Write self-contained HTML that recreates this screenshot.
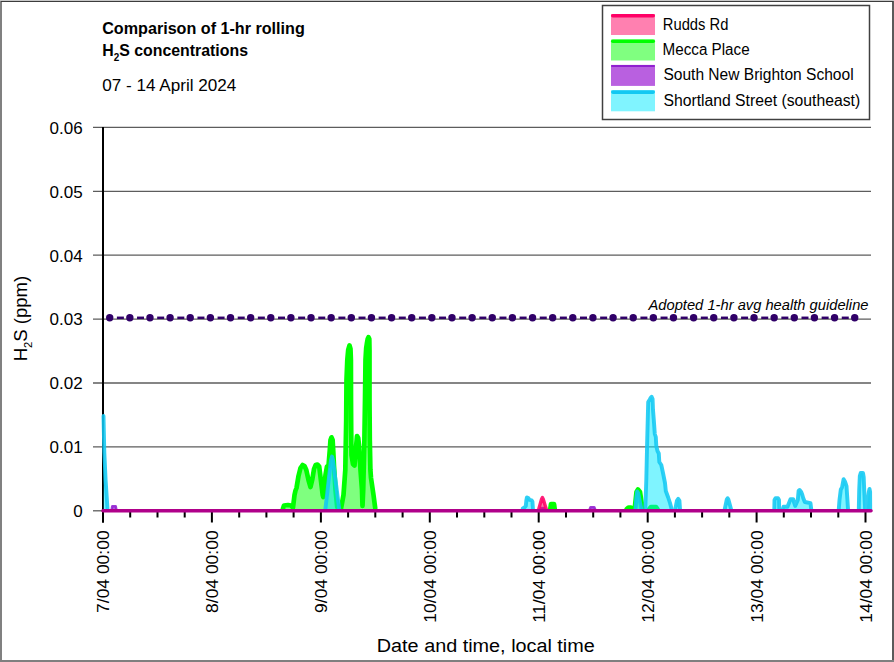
<!DOCTYPE html>
<html><head><meta charset="utf-8"><title>H2S chart</title>
<style>html,body{margin:0;padding:0;background:#fff;} body{width:894px;height:662px;overflow:hidden;font-family:"Liberation Sans", sans-serif;} svg{display:block;}</style>
</head><body>
<svg width="894" height="662" viewBox="0 0 894 662" font-family='"Liberation Sans", sans-serif'><rect x="0" y="0" width="894" height="662" fill="#ffffff"/>
<line x1="93" y1="446.9" x2="871" y2="446.9" stroke="#5c5c5c" stroke-width="1.3"/>
<line x1="93" y1="383.0" x2="871" y2="383.0" stroke="#5c5c5c" stroke-width="1.3"/>
<line x1="93" y1="319.1" x2="871" y2="319.1" stroke="#5c5c5c" stroke-width="1.3"/>
<line x1="93" y1="255.2" x2="871" y2="255.2" stroke="#5c5c5c" stroke-width="1.3"/>
<line x1="93" y1="191.3" x2="871" y2="191.3" stroke="#5c5c5c" stroke-width="1.3"/>
<line x1="93" y1="127.4" x2="871" y2="127.4" stroke="#5c5c5c" stroke-width="1.3"/>
<line x1="93" y1="510.8" x2="103" y2="510.8" stroke="#5c5c5c" stroke-width="1.3"/>
<text x="82.6" y="517.1" text-anchor="end" font-size="17" fill="#000">0</text>
<text x="82.6" y="453.2" text-anchor="end" font-size="17" fill="#000">0.01</text>
<text x="82.6" y="389.3" text-anchor="end" font-size="17" fill="#000">0.02</text>
<text x="82.6" y="325.4" text-anchor="end" font-size="17" fill="#000">0.03</text>
<text x="82.6" y="261.5" text-anchor="end" font-size="17" fill="#000">0.04</text>
<text x="82.6" y="197.6" text-anchor="end" font-size="17" fill="#000">0.05</text>
<text x="82.6" y="133.7" text-anchor="end" font-size="17" fill="#000">0.06</text>
<text x="648.5" y="310.4" font-size="14.6" font-style="italic" textLength="220" lengthAdjust="spacingAndGlyphs" fill="#000">Adopted 1-hr avg health guideline</text>
<circle cx="109.70" cy="317.8" r="3.7" fill="#300068"/>
<line x1="116.90" y1="317.8" x2="123.90" y2="317.8" stroke="#300068" stroke-width="2.5"/>
<circle cx="129.84" cy="317.8" r="3.7" fill="#300068"/>
<line x1="137.03" y1="317.8" x2="144.03" y2="317.8" stroke="#300068" stroke-width="2.5"/>
<circle cx="149.97" cy="317.8" r="3.7" fill="#300068"/>
<line x1="157.17" y1="317.8" x2="164.17" y2="317.8" stroke="#300068" stroke-width="2.5"/>
<circle cx="170.11" cy="317.8" r="3.7" fill="#300068"/>
<line x1="177.31" y1="317.8" x2="184.31" y2="317.8" stroke="#300068" stroke-width="2.5"/>
<circle cx="190.24" cy="317.8" r="3.7" fill="#300068"/>
<line x1="197.44" y1="317.8" x2="204.44" y2="317.8" stroke="#300068" stroke-width="2.5"/>
<circle cx="210.38" cy="317.8" r="3.7" fill="#300068"/>
<line x1="217.57" y1="317.8" x2="224.57" y2="317.8" stroke="#300068" stroke-width="2.5"/>
<circle cx="230.51" cy="317.8" r="3.7" fill="#300068"/>
<line x1="237.71" y1="317.8" x2="244.71" y2="317.8" stroke="#300068" stroke-width="2.5"/>
<circle cx="250.65" cy="317.8" r="3.7" fill="#300068"/>
<line x1="257.85" y1="317.8" x2="264.85" y2="317.8" stroke="#300068" stroke-width="2.5"/>
<circle cx="270.78" cy="317.8" r="3.7" fill="#300068"/>
<line x1="277.98" y1="317.8" x2="284.98" y2="317.8" stroke="#300068" stroke-width="2.5"/>
<circle cx="290.92" cy="317.8" r="3.7" fill="#300068"/>
<line x1="298.12" y1="317.8" x2="305.12" y2="317.8" stroke="#300068" stroke-width="2.5"/>
<circle cx="311.05" cy="317.8" r="3.7" fill="#300068"/>
<line x1="318.25" y1="317.8" x2="325.25" y2="317.8" stroke="#300068" stroke-width="2.5"/>
<circle cx="331.19" cy="317.8" r="3.7" fill="#300068"/>
<line x1="338.38" y1="317.8" x2="345.38" y2="317.8" stroke="#300068" stroke-width="2.5"/>
<circle cx="351.32" cy="317.8" r="3.7" fill="#300068"/>
<line x1="358.52" y1="317.8" x2="365.52" y2="317.8" stroke="#300068" stroke-width="2.5"/>
<circle cx="371.45" cy="317.8" r="3.7" fill="#300068"/>
<line x1="378.65" y1="317.8" x2="385.65" y2="317.8" stroke="#300068" stroke-width="2.5"/>
<circle cx="391.59" cy="317.8" r="3.7" fill="#300068"/>
<line x1="398.79" y1="317.8" x2="405.79" y2="317.8" stroke="#300068" stroke-width="2.5"/>
<circle cx="411.73" cy="317.8" r="3.7" fill="#300068"/>
<line x1="418.93" y1="317.8" x2="425.93" y2="317.8" stroke="#300068" stroke-width="2.5"/>
<circle cx="431.86" cy="317.8" r="3.7" fill="#300068"/>
<line x1="439.06" y1="317.8" x2="446.06" y2="317.8" stroke="#300068" stroke-width="2.5"/>
<circle cx="452.00" cy="317.8" r="3.7" fill="#300068"/>
<line x1="459.19" y1="317.8" x2="466.19" y2="317.8" stroke="#300068" stroke-width="2.5"/>
<circle cx="472.13" cy="317.8" r="3.7" fill="#300068"/>
<line x1="479.33" y1="317.8" x2="486.33" y2="317.8" stroke="#300068" stroke-width="2.5"/>
<circle cx="492.27" cy="317.8" r="3.7" fill="#300068"/>
<line x1="499.47" y1="317.8" x2="506.47" y2="317.8" stroke="#300068" stroke-width="2.5"/>
<circle cx="512.40" cy="317.8" r="3.7" fill="#300068"/>
<line x1="519.60" y1="317.8" x2="526.60" y2="317.8" stroke="#300068" stroke-width="2.5"/>
<circle cx="532.54" cy="317.8" r="3.7" fill="#300068"/>
<line x1="539.74" y1="317.8" x2="546.74" y2="317.8" stroke="#300068" stroke-width="2.5"/>
<circle cx="552.67" cy="317.8" r="3.7" fill="#300068"/>
<line x1="559.87" y1="317.8" x2="566.87" y2="317.8" stroke="#300068" stroke-width="2.5"/>
<circle cx="572.81" cy="317.8" r="3.7" fill="#300068"/>
<line x1="580.01" y1="317.8" x2="587.01" y2="317.8" stroke="#300068" stroke-width="2.5"/>
<circle cx="592.94" cy="317.8" r="3.7" fill="#300068"/>
<line x1="600.14" y1="317.8" x2="607.14" y2="317.8" stroke="#300068" stroke-width="2.5"/>
<circle cx="613.08" cy="317.8" r="3.7" fill="#300068"/>
<line x1="620.28" y1="317.8" x2="627.28" y2="317.8" stroke="#300068" stroke-width="2.5"/>
<circle cx="633.21" cy="317.8" r="3.7" fill="#300068"/>
<line x1="640.41" y1="317.8" x2="647.41" y2="317.8" stroke="#300068" stroke-width="2.5"/>
<circle cx="653.35" cy="317.8" r="3.7" fill="#300068"/>
<line x1="660.55" y1="317.8" x2="667.55" y2="317.8" stroke="#300068" stroke-width="2.5"/>
<circle cx="673.48" cy="317.8" r="3.7" fill="#300068"/>
<line x1="680.68" y1="317.8" x2="687.68" y2="317.8" stroke="#300068" stroke-width="2.5"/>
<circle cx="693.62" cy="317.8" r="3.7" fill="#300068"/>
<line x1="700.82" y1="317.8" x2="707.82" y2="317.8" stroke="#300068" stroke-width="2.5"/>
<circle cx="713.75" cy="317.8" r="3.7" fill="#300068"/>
<line x1="720.95" y1="317.8" x2="727.95" y2="317.8" stroke="#300068" stroke-width="2.5"/>
<circle cx="733.89" cy="317.8" r="3.7" fill="#300068"/>
<line x1="741.09" y1="317.8" x2="748.09" y2="317.8" stroke="#300068" stroke-width="2.5"/>
<circle cx="754.02" cy="317.8" r="3.7" fill="#300068"/>
<line x1="761.22" y1="317.8" x2="768.22" y2="317.8" stroke="#300068" stroke-width="2.5"/>
<circle cx="774.16" cy="317.8" r="3.7" fill="#300068"/>
<line x1="781.36" y1="317.8" x2="788.36" y2="317.8" stroke="#300068" stroke-width="2.5"/>
<circle cx="794.29" cy="317.8" r="3.7" fill="#300068"/>
<line x1="801.49" y1="317.8" x2="808.49" y2="317.8" stroke="#300068" stroke-width="2.5"/>
<circle cx="814.43" cy="317.8" r="3.7" fill="#300068"/>
<line x1="821.63" y1="317.8" x2="828.63" y2="317.8" stroke="#300068" stroke-width="2.5"/>
<circle cx="834.56" cy="317.8" r="3.7" fill="#300068"/>
<line x1="841.76" y1="317.8" x2="848.76" y2="317.8" stroke="#300068" stroke-width="2.5"/>
<circle cx="854.70" cy="317.8" r="3.7" fill="#300068"/>
<line x1="103" y1="127" x2="103" y2="522.5" stroke="#000" stroke-width="2"/>
<line x1="103.0" y1="512" x2="103.0" y2="522.5" stroke="#000" stroke-width="2"/>
<line x1="130.2" y1="512" x2="130.2" y2="517.5" stroke="#000" stroke-width="2"/>
<line x1="157.5" y1="512" x2="157.5" y2="517.5" stroke="#000" stroke-width="2"/>
<line x1="184.7" y1="512" x2="184.7" y2="517.5" stroke="#000" stroke-width="2"/>
<line x1="211.9" y1="512" x2="211.9" y2="522.5" stroke="#000" stroke-width="2"/>
<line x1="239.2" y1="512" x2="239.2" y2="517.5" stroke="#000" stroke-width="2"/>
<line x1="266.4" y1="512" x2="266.4" y2="517.5" stroke="#000" stroke-width="2"/>
<line x1="293.6" y1="512" x2="293.6" y2="517.5" stroke="#000" stroke-width="2"/>
<line x1="320.9" y1="512" x2="320.9" y2="522.5" stroke="#000" stroke-width="2"/>
<line x1="348.1" y1="512" x2="348.1" y2="517.5" stroke="#000" stroke-width="2"/>
<line x1="375.3" y1="512" x2="375.3" y2="517.5" stroke="#000" stroke-width="2"/>
<line x1="402.6" y1="512" x2="402.6" y2="517.5" stroke="#000" stroke-width="2"/>
<line x1="429.8" y1="512" x2="429.8" y2="522.5" stroke="#000" stroke-width="2"/>
<line x1="457.0" y1="512" x2="457.0" y2="517.5" stroke="#000" stroke-width="2"/>
<line x1="484.3" y1="512" x2="484.3" y2="517.5" stroke="#000" stroke-width="2"/>
<line x1="511.5" y1="512" x2="511.5" y2="517.5" stroke="#000" stroke-width="2"/>
<line x1="538.7" y1="512" x2="538.7" y2="522.5" stroke="#000" stroke-width="2"/>
<line x1="566.0" y1="512" x2="566.0" y2="517.5" stroke="#000" stroke-width="2"/>
<line x1="593.2" y1="512" x2="593.2" y2="517.5" stroke="#000" stroke-width="2"/>
<line x1="620.4" y1="512" x2="620.4" y2="517.5" stroke="#000" stroke-width="2"/>
<line x1="647.7" y1="512" x2="647.7" y2="522.5" stroke="#000" stroke-width="2"/>
<line x1="674.9" y1="512" x2="674.9" y2="517.5" stroke="#000" stroke-width="2"/>
<line x1="702.1" y1="512" x2="702.1" y2="517.5" stroke="#000" stroke-width="2"/>
<line x1="729.3" y1="512" x2="729.3" y2="517.5" stroke="#000" stroke-width="2"/>
<line x1="756.6" y1="512" x2="756.6" y2="522.5" stroke="#000" stroke-width="2"/>
<line x1="783.8" y1="512" x2="783.8" y2="517.5" stroke="#000" stroke-width="2"/>
<line x1="811.0" y1="512" x2="811.0" y2="517.5" stroke="#000" stroke-width="2"/>
<line x1="838.3" y1="512" x2="838.3" y2="517.5" stroke="#000" stroke-width="2"/>
<line x1="865.5" y1="512" x2="865.5" y2="522.5" stroke="#000" stroke-width="2"/>
<path d="M283.0,509.5 L283.0,508.5 L284.0,505.5 L288.0,505.0 L291.0,505.5 L293.0,507.5 L294.5,495.0 L295.5,490.5 L296.5,488.0 L298.5,476.0 L300.5,468.0 L302.6,465.0 L304.5,466.0 L306.3,470.0 L308.5,480.0 L310.5,487.0 L312.4,479.0 L314.0,469.0 L315.6,465.0 L317.5,464.5 L319.2,466.5 L322.7,495.0 L323.3,497.0 L325.5,475.0 L327.0,466.5 L328.5,466.0 L329.8,450.0 L330.5,440.0 L331.5,437.3 L332.6,440.0 L333.2,450.0 L334.0,466.0 L335.5,490.0 L337.2,507.0 L338.0,508.5 L341.0,508.5 L343.5,495.0 L345.3,470.0 L346.2,420.0 L346.5,380.0 L347.3,360.0 L348.2,350.0 L349.5,345.5 L350.5,349.0 L350.9,360.0 L351.0,400.0 L351.2,430.0 L351.5,455.0 L353.0,464.0 L354.5,465.5 L355.8,450.0 L357.0,436.0 L358.2,438.0 L359.0,445.0 L360.5,470.0 L362.0,490.0 L362.5,506.0 L363.2,490.0 L364.4,440.0 L365.0,400.0 L365.5,360.0 L366.2,348.0 L366.8,344.0 L367.7,339.0 L368.5,337.2 L369.3,339.0 L369.5,350.0 L369.5,400.0 L369.8,440.0 L370.4,470.0 L371.0,478.0 L373.5,495.0 L375.2,508.0 L375.2,509.5 Z" fill="#00ff00" fill-opacity="0.5" stroke="none"/><path d="M283.0,508.5 L284.0,505.5 L288.0,505.0 L291.0,505.5 L293.0,507.5 L294.5,495.0 L295.5,490.5 L296.5,488.0 L298.5,476.0 L300.5,468.0 L302.6,465.0 L304.5,466.0 L306.3,470.0 L308.5,480.0 L310.5,487.0 L312.4,479.0 L314.0,469.0 L315.6,465.0 L317.5,464.5 L319.2,466.5 L322.7,495.0 L323.3,497.0 L325.5,475.0 L327.0,466.5 L328.5,466.0 L329.8,450.0 L330.5,440.0 L331.5,437.3 L332.6,440.0 L333.2,450.0 L334.0,466.0 L335.5,490.0 L337.2,507.0 L338.0,508.5 L341.0,508.5 L343.5,495.0 L345.3,470.0 L346.2,420.0 L346.5,380.0 L347.3,360.0 L348.2,350.0 L349.5,345.5 L350.5,349.0 L350.9,360.0 L351.0,400.0 L351.2,430.0 L351.5,455.0 L353.0,464.0 L354.5,465.5 L355.8,450.0 L357.0,436.0 L358.2,438.0 L359.0,445.0 L360.5,470.0 L362.0,490.0 L362.5,506.0 L363.2,490.0 L364.4,440.0 L365.0,400.0 L365.5,360.0 L366.2,348.0 L366.8,344.0 L367.7,339.0 L368.5,337.2 L369.3,339.0 L369.5,350.0 L369.5,400.0 L369.8,440.0 L370.4,470.0 L371.0,478.0 L373.5,495.0 L375.2,508.0" fill="none" stroke="#00ff00" stroke-opacity="1.0" stroke-width="4.7" stroke-linejoin="round" stroke-linecap="round"/>
<path d="M550.3,509.5 L550.3,509.0 L551.0,504.2 L554.0,504.2 L554.7,509.0 L554.7,509.5 Z" fill="#00ff00" fill-opacity="0.5" stroke="none"/><path d="M550.3,509.0 L551.0,504.2 L554.0,504.2 L554.7,509.0" fill="none" stroke="#00ff00" stroke-opacity="1.0" stroke-width="4.7" stroke-linejoin="round" stroke-linecap="round"/>
<path d="M626.8,509.5 L626.8,509.0 L628.5,507.5 L631.0,507.5 L632.5,509.0 L632.5,509.5 Z" fill="#00ff00" fill-opacity="0.5" stroke="none"/><path d="M626.8,509.0 L628.5,507.5 L631.0,507.5 L632.5,509.0" fill="none" stroke="#00ff00" stroke-opacity="1.0" stroke-width="4.7" stroke-linejoin="round" stroke-linecap="round"/>
<path d="M634.7,509.5 L634.7,509.0 L636.5,492.0 L638.0,489.5 L640.0,492.0 L642.6,509.0 L642.6,509.5 Z" fill="#00ff00" fill-opacity="0.5" stroke="none"/><path d="M634.7,509.0 L636.5,492.0 L638.0,489.5 L640.0,492.0 L642.6,509.0" fill="none" stroke="#00ff00" stroke-opacity="1.0" stroke-width="4.7" stroke-linejoin="round" stroke-linecap="round"/>
<path d="M649.4,509.5 L649.4,509.0 L651.0,507.0 L656.0,507.0 L657.4,509.0 L657.4,509.5 Z" fill="#00ff00" fill-opacity="0.5" stroke="none"/><path d="M649.4,509.0 L651.0,507.0 L656.0,507.0 L657.4,509.0" fill="none" stroke="#00ff00" stroke-opacity="1.0" stroke-width="4.7" stroke-linejoin="round" stroke-linecap="round"/>
<path d="M103.5,509.5 L103.5,416.0 L103.8,430.0 L104.3,452.0 L105.6,480.0 L107.5,509.0 L107.5,509.5 Z" fill="#00eaff" fill-opacity="0.5" stroke="none"/><path d="M103.5,416.0 L103.8,430.0 L104.3,452.0 L105.6,480.0 L107.5,509.0" fill="none" stroke="#12c8f2" stroke-opacity="0.88" stroke-width="3.9" stroke-linejoin="round" stroke-linecap="round"/>
<path d="M325.4,509.5 L325.4,509.0 L331.0,460.0 L332.0,456.5 L333.0,460.0 L339.2,509.0 L339.2,509.5 Z" fill="#00eaff" fill-opacity="0.5" stroke="none"/><path d="M325.4,509.0 L331.0,460.0 L332.0,456.5 L333.0,460.0 L339.2,509.0" fill="none" stroke="#12c8f2" stroke-opacity="0.88" stroke-width="3.9" stroke-linejoin="round" stroke-linecap="round"/>
<path d="M522.8,509.5 L522.8,508.5 L524.5,507.5 L525.8,506.0 L526.4,500.0 L526.9,497.4 L528.2,498.0 L529.5,499.8 L531.6,500.3 L532.4,501.5 L532.9,508.5 L532.9,509.5 Z" fill="#00eaff" fill-opacity="0.5" stroke="none"/><path d="M522.8,508.5 L524.5,507.5 L525.8,506.0 L526.4,500.0 L526.9,497.4 L528.2,498.0 L529.5,499.8 L531.6,500.3 L532.4,501.5 L532.9,508.5" fill="none" stroke="#12c8f2" stroke-opacity="0.88" stroke-width="3.9" stroke-linejoin="round" stroke-linecap="round"/>
<path d="M635.5,509.5 L635.5,509.0 L636.3,498.0 L637.2,491.5 L638.2,493.0 L641.3,509.0 L641.3,509.5 Z" fill="#00eaff" fill-opacity="0.5" stroke="none"/><path d="M635.5,509.0 L636.3,498.0 L637.2,491.5 L638.2,493.0 L641.3,509.0" fill="none" stroke="#12c8f2" stroke-opacity="0.88" stroke-width="3.9" stroke-linejoin="round" stroke-linecap="round"/>
<path d="M645.3,509.5 L645.3,509.0 L646.3,480.0 L647.2,440.0 L648.2,402.0 L649.5,400.0 L650.5,398.0 L651.6,396.8 L652.6,399.0 L653.0,410.0 L653.8,420.0 L654.8,434.0 L655.8,437.0 L656.3,446.0 L657.5,451.0 L658.8,453.5 L659.3,462.0 L661.3,465.0 L663.0,473.0 L665.0,483.0 L665.8,491.0 L668.2,497.5 L670.0,503.0 L671.6,509.0 L671.6,509.5 Z" fill="#00eaff" fill-opacity="0.5" stroke="none"/><path d="M645.3,509.0 L646.3,480.0 L647.2,440.0 L648.2,402.0 L649.5,400.0 L650.5,398.0 L651.6,396.8 L652.6,399.0 L653.0,410.0 L653.8,420.0 L654.8,434.0 L655.8,437.0 L656.3,446.0 L657.5,451.0 L658.8,453.5 L659.3,462.0 L661.3,465.0 L663.0,473.0 L665.0,483.0 L665.8,491.0 L668.2,497.5 L670.0,503.0 L671.6,509.0" fill="none" stroke="#12c8f2" stroke-opacity="0.88" stroke-width="3.9" stroke-linejoin="round" stroke-linecap="round"/>
<path d="M675.3,509.5 L675.3,509.0 L677.0,500.5 L678.2,498.8 L679.4,500.5 L680.0,509.0 L680.0,509.5 Z" fill="#00eaff" fill-opacity="0.5" stroke="none"/><path d="M675.3,509.0 L677.0,500.5 L678.2,498.8 L679.4,500.5 L680.0,509.0" fill="none" stroke="#12c8f2" stroke-opacity="0.88" stroke-width="3.9" stroke-linejoin="round" stroke-linecap="round"/>
<path d="M724.8,509.5 L724.8,509.0 L726.8,499.5 L727.6,498.2 L728.4,499.5 L731.0,509.0 L731.0,509.5 Z" fill="#00eaff" fill-opacity="0.5" stroke="none"/><path d="M724.8,509.0 L726.8,499.5 L727.6,498.2 L728.4,499.5 L731.0,509.0" fill="none" stroke="#12c8f2" stroke-opacity="0.88" stroke-width="3.9" stroke-linejoin="round" stroke-linecap="round"/>
<path d="M774.3,509.5 L774.3,509.0 L774.5,500.0 L775.5,498.3 L778.0,498.3 L779.0,500.0 L779.2,509.0 L779.2,509.5 Z" fill="#00eaff" fill-opacity="0.5" stroke="none"/><path d="M774.3,509.0 L774.5,500.0 L775.5,498.3 L778.0,498.3 L779.0,500.0 L779.2,509.0" fill="none" stroke="#12c8f2" stroke-opacity="0.88" stroke-width="3.9" stroke-linejoin="round" stroke-linecap="round"/>
<path d="M782.8,509.5 L782.8,509.0 L783.5,506.8 L787.5,506.8 L789.8,501.0 L790.5,499.2 L793.3,499.2 L794.2,503.0 L795.2,506.0 L797.8,500.0 L798.6,491.0 L799.6,490.0 L801.2,492.0 L802.2,494.5 L803.2,498.0 L804.8,502.0 L810.5,503.2 L811.2,509.0 L811.2,509.5 Z" fill="#00eaff" fill-opacity="0.5" stroke="none"/><path d="M782.8,509.0 L783.5,506.8 L787.5,506.8 L789.8,501.0 L790.5,499.2 L793.3,499.2 L794.2,503.0 L795.2,506.0 L797.8,500.0 L798.6,491.0 L799.6,490.0 L801.2,492.0 L802.2,494.5 L803.2,498.0 L804.8,502.0 L810.5,503.2 L811.2,509.0" fill="none" stroke="#12c8f2" stroke-opacity="0.88" stroke-width="3.9" stroke-linejoin="round" stroke-linecap="round"/>
<path d="M838.8,509.5 L838.8,509.0 L839.5,500.0 L840.8,489.5 L842.0,487.5 L843.6,479.2 L845.2,482.0 L846.5,486.0 L848.0,509.0 L848.0,509.5 Z" fill="#00eaff" fill-opacity="0.5" stroke="none"/><path d="M838.8,509.0 L839.5,500.0 L840.8,489.5 L842.0,487.5 L843.6,479.2 L845.2,482.0 L846.5,486.0 L848.0,509.0" fill="none" stroke="#12c8f2" stroke-opacity="0.88" stroke-width="3.9" stroke-linejoin="round" stroke-linecap="round"/>
<path d="M858.8,509.5 L858.8,509.0 L859.2,490.0 L859.8,476.0 L860.7,473.0 L863.0,473.0 L863.7,477.0 L864.3,492.0 L865.1,509.0 L866.8,509.0 L868.8,492.0 L869.5,489.0 L870.1,492.0 L870.2,509.0 L870.2,509.5 Z" fill="#00eaff" fill-opacity="0.5" stroke="none"/><path d="M858.8,509.0 L859.2,490.0 L859.8,476.0 L860.7,473.0 L863.0,473.0 L863.7,477.0 L864.3,492.0 L865.1,509.0 L866.8,509.0 L868.8,492.0 L869.5,489.0 L870.1,492.0 L870.2,509.0" fill="none" stroke="#12c8f2" stroke-opacity="0.88" stroke-width="3.9" stroke-linejoin="round" stroke-linecap="round"/>
<path d="M111.8,509.5 L111.8,509.0 L112.3,506.2 L115.7,506.2 L116.2,509.0 L116.2,509.5 Z" fill="#b960e0" fill-opacity="1.0" stroke="none"/><path d="M111.8,509.0 L112.3,506.2 L115.7,506.2 L116.2,509.0" fill="none" stroke="#9020d0" stroke-opacity="0.88" stroke-width="2.5" stroke-linejoin="round" stroke-linecap="round"/>
<path d="M589.8,509.5 L589.8,509.0 L590.5,507.3 L594.3,507.3 L595.0,509.0 L595.0,509.5 Z" fill="#b960e0" fill-opacity="1.0" stroke="none"/><path d="M589.8,509.0 L590.5,507.3 L594.3,507.3 L595.0,509.0" fill="none" stroke="#9020d0" stroke-opacity="0.88" stroke-width="2.5" stroke-linejoin="round" stroke-linecap="round"/>
<path d="M540.5,509.5 L540.5,509.0 L541.5,508.0 L543.5,508.0 L544.5,509.0 L544.5,509.5 Z" fill="#b960e0" fill-opacity="1.0" stroke="none"/><path d="M540.5,509.0 L541.5,508.0 L543.5,508.0 L544.5,509.0" fill="none" stroke="#9020d0" stroke-opacity="0.88" stroke-width="2.5" stroke-linejoin="round" stroke-linecap="round"/>
<path d="M538.8,509.5 L538.8,509.0 L541.6,499.0 L542.4,497.5 L543.2,499.0 L546.2,509.0 L546.2,509.5 Z" fill="#ff0055" fill-opacity="0.5" stroke="none"/><path d="M538.8,509.0 L541.6,499.0 L542.4,497.5 L543.2,499.0 L546.2,509.0" fill="none" stroke="#ff0066" stroke-opacity="0.88" stroke-width="3.4" stroke-linejoin="round" stroke-linecap="round"/>
<line x1="103" y1="510.8" x2="871" y2="510.8" stroke="#b0008a" stroke-width="3.6" stroke-linecap="round"/>
<text transform="translate(109.2,530.4) rotate(-90)" text-anchor="end" font-size="17" textLength="82.5" lengthAdjust="spacingAndGlyphs" fill="#000">7/04 00:00</text>
<text transform="translate(218.1,530.4) rotate(-90)" text-anchor="end" font-size="17" textLength="82.5" lengthAdjust="spacingAndGlyphs" fill="#000">8/04 00:00</text>
<text transform="translate(327.1,530.4) rotate(-90)" text-anchor="end" font-size="17" textLength="82.5" lengthAdjust="spacingAndGlyphs" fill="#000">9/04 00:00</text>
<text transform="translate(436.0,530.4) rotate(-90)" text-anchor="end" font-size="17" textLength="92.3" lengthAdjust="spacingAndGlyphs" fill="#000">10/04 00:00</text>
<text transform="translate(544.9,530.4) rotate(-90)" text-anchor="end" font-size="17" textLength="92.3" lengthAdjust="spacingAndGlyphs" fill="#000">11/04 00:00</text>
<text transform="translate(653.9,530.4) rotate(-90)" text-anchor="end" font-size="17" textLength="92.3" lengthAdjust="spacingAndGlyphs" fill="#000">12/04 00:00</text>
<text transform="translate(762.8,530.4) rotate(-90)" text-anchor="end" font-size="17" textLength="92.3" lengthAdjust="spacingAndGlyphs" fill="#000">13/04 00:00</text>
<text transform="translate(871.7,530.4) rotate(-90)" text-anchor="end" font-size="17" textLength="92.3" lengthAdjust="spacingAndGlyphs" fill="#000">14/04 00:00</text>
<text x="376.8" y="651.5" font-size="18" textLength="218" lengthAdjust="spacingAndGlyphs" fill="#000">Date and time, local time</text>
<text transform="translate(26.6,361.3) rotate(-90)" font-size="17.5" textLength="85.5" lengthAdjust="spacingAndGlyphs" fill="#000">H<tspan font-size="10.5" dy="5">2</tspan><tspan dy="-5">S (ppm)</tspan></text>
<text x="102.2" y="33.9" font-size="16" font-weight="bold" textLength="202.6" lengthAdjust="spacingAndGlyphs" fill="#000">Comparison of 1-hr rolling</text>
<text x="102.2" y="56.3" font-size="16" font-weight="bold" textLength="145.8" lengthAdjust="spacingAndGlyphs" fill="#000">H<tspan font-size="10" dy="4.2">2</tspan><tspan dy="-4.2">S concentrations</tspan></text>
<text x="102.2" y="90.5" font-size="16.5" textLength="134.2" lengthAdjust="spacingAndGlyphs" fill="#000">07 - 14 April 2024</text>
<rect x="602.5" y="5.5" width="267" height="114" fill="#fff" stroke="#404040" stroke-width="1.5"/>
<rect x="611" y="14.0" width="44" height="21" fill="#ff80b0"/>
<line x1="612.8" y1="15.8" x2="653.2" y2="15.8" stroke="#ff0066" stroke-width="3.6" stroke-linecap="round"/>
<text x="662.8" y="29.8" font-size="16" textLength="65.6" lengthAdjust="spacingAndGlyphs" fill="#000">Rudds Rd</text>
<rect x="611" y="39.5" width="44" height="21" fill="#80ff80"/>
<line x1="612.8" y1="41.2" x2="653.2" y2="41.2" stroke="#00ff00" stroke-width="3.6" stroke-linecap="round"/>
<text x="662.6" y="55.1" font-size="16" textLength="87" lengthAdjust="spacingAndGlyphs" fill="#000">Mecca Place</text>
<rect x="611" y="64.9" width="44" height="21" fill="#b960e0"/>
<line x1="612.1" y1="66.0" x2="653.9" y2="66.0" stroke="#9020d0" stroke-width="2.2" stroke-linecap="round"/>
<text x="663.4" y="80.3" font-size="16" textLength="190.2" lengthAdjust="spacingAndGlyphs" fill="#000">South New Brighton School</text>
<rect x="611" y="90.3" width="44" height="21" fill="#80f4ff"/>
<line x1="612.8" y1="92.1" x2="653.2" y2="92.1" stroke="#12c8f2" stroke-width="3.6" stroke-linecap="round"/>
<text x="663.4" y="105.6" font-size="16" textLength="196.8" lengthAdjust="spacingAndGlyphs" fill="#000">Shortland Street (southeast)</text>
<rect x="0" y="0" width="2" height="662" fill="#808080"/>
<rect x="892" y="0" width="2" height="662" fill="#5a5a5a"/>
<rect x="0" y="660" width="894" height="2" fill="#7f7f7f"/>
<rect x="0" y="0" width="894" height="1" fill="#c8c8c8"/>
<rect x="1" y="1" width="892" height="1" fill="#3c3c3c"/></svg>
</body></html>
